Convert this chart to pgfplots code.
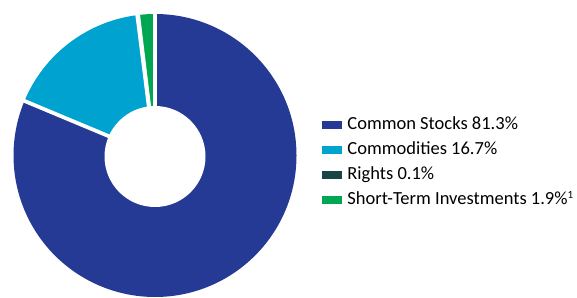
\documentclass[border=0pt]{standalone}
\usepackage{pgfplots}
\pgfplotsset{compat=1.18}
\usepackage{pgfplotstable}
\usepackage{fontspec}
\setmainfont{Carlito}
\definecolor{cstock}{HTML}{243A94}
\definecolor{ccomm}{HTML}{00A3CF}
\definecolor{crights}{HTML}{1B4446}
\definecolor{cshort}{HTML}{00A651}

\pgfplotstableread[col sep=comma]{
name,value,color
Common Stocks,81.3,cstock
Commodities,16.7,ccomm
Rights,0.1,crights
Short-Term Investments,1.9,cshort
}\shares

\begin{document}
\begin{tikzpicture}
\begin{axis}[
  width=577pt, height=297pt, scale only axis,
  xmin=0, xmax=577, ymin=0, ymax=297,
  hide axis, clip=false,
  legend cell align=left,
  legend style={at={(axis cs:322,181)}, anchor=north west, draw=none, fill=none,
    inner sep=0pt, outer sep=0pt, row sep=7pt, column sep=6pt,
    font=\fontsize{18.5}{22}\selectfont,
    nodes={inner sep=0pt, text height=14pt, text depth=4pt}},
]
\path (axis cs:0,0) rectangle (axis cs:577,297);
\pgfplotsextra{
  \xdef\cum{0}
  \foreach \i in {0,...,3}{
    \pgfplotstablegetelem{\i}{value}\of\shares \let\v\pgfplotsretval
    \pgfplotstablegetelem{\i}{color}\of\shares \let\c\pgfplotsretval
    \pgfmathsetmacro\a{90-3.6*\cum}
    \pgfmathsetmacro\b{90-3.6*(\cum+\v)}
    \fill[\c] (axis cs:155,141.5) -- ++(\a:141.5pt) arc[start angle=\a, end angle=\b, radius=141.5pt] -- cycle;
    \pgfmathsetmacro\n{\cum+\v}
    \xdef\cum{\n}
  }
  \xdef\cum{0}
  \foreach \i in {0,...,3}{
    \pgfplotstablegetelem{\i}{value}\of\shares \let\v\pgfplotsretval
    \pgfmathsetmacro\a{90-3.6*\cum}
    \draw[white, line width=3.75pt] (axis cs:155,141.5) -- ++(\a:143pt);
    \pgfmathsetmacro\n{\cum+\v}
    \xdef\cum{\n}
  }
  \fill[white] (axis cs:155,140.5) circle[radius=50.5pt];
}
\addlegendimage{legend image code/.code={\fill[cstock] (0pt,-3.5pt) rectangle (19pt,3.5pt);}}
\addlegendentry{Common Stocks 81.3\%}
\addlegendimage{legend image code/.code={\fill[ccomm] (0pt,-3.5pt) rectangle (19pt,3.5pt);}}
\addlegendentry{Commodities 16.7\%}
\addlegendimage{legend image code/.code={\fill[crights] (0pt,-3.5pt) rectangle (19pt,3.5pt);}}
\addlegendentry{Rights 0.1\%}
\addlegendimage{legend image code/.code={\fill[cshort] (0pt,-3.5pt) rectangle (19pt,3.5pt);}}
\addlegendentry{Short-Term Investments 1.9\%{\fontsize{11}{11}\selectfont\raisebox{6pt}{1}}}
\end{axis}
\end{tikzpicture}
\end{document}
